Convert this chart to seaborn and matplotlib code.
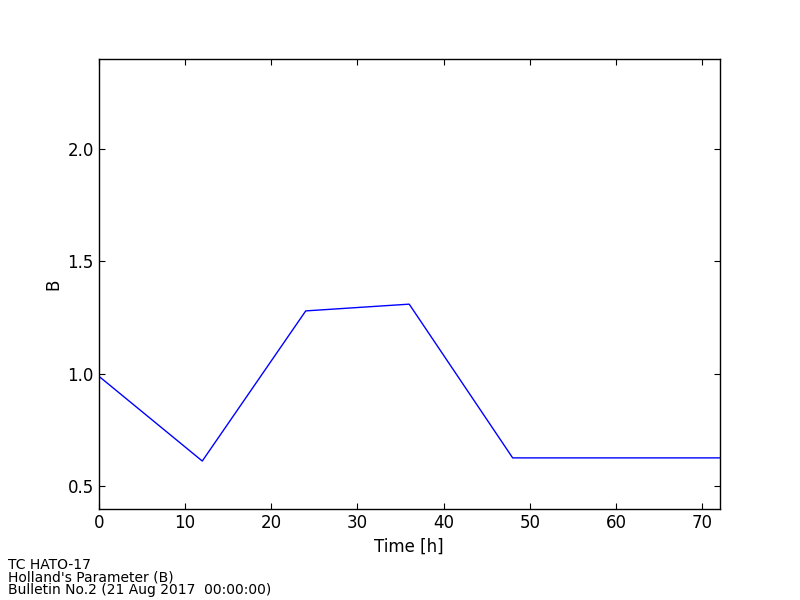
import matplotlib
matplotlib.use("Agg")
import matplotlib.pyplot as plt
import seaborn as sns
import pandas as pd

# Holland's B parameter forecast
hours = [0, 12, 24, 36, 48, 60, 72]
b_values = [0.99, 0.613, 1.28, 1.31, 0.627, 0.627, 0.627]

footer_lines = ["TC HATO-17", "Holland's Parameter (B)", "Bulletin No.2 (21 Aug 2017  00:00:00)"]

sns.set_style("ticks")
plt.rcParams['font.family'] = ['DejaVu Sans']
plt.rcParams['xtick.direction'] = 'in'
plt.rcParams['ytick.direction'] = 'in'
plt.rcParams['text.color'] = 'black'
plt.rcParams['axes.labelcolor'] = 'black'

df = pd.DataFrame({'Time': hours, 'B': b_values})

fig = plt.figure(figsize=(8, 6), dpi=100)
ax = fig.add_axes([0.1235, 0.1517, 0.776, 0.7503])
sns.lineplot(data=df, x='Time', y='B', ax=ax, color='blue', linewidth=1.0)

ax.set_xlim(0, 72)
ax.set_ylim(0.4, 2.4)
ax.set_xticks([0, 10, 20, 30, 40, 50, 60, 70])
ax.set_yticks([0.5, 1.0, 1.5, 2.0])
ax.set_yticklabels(['0.5', '1.0', '1.5', '2.0'])
ax.tick_params(axis='both', which='major', labelsize=12, length=4, width=0.8,
               top=True, right=True, color='black', labelcolor='black')
for spine in ax.spines.values():
    spine.set_color('black')
    spine.set_linewidth(1.0)
    spine.set_visible(True)
ax.set_xlabel('Time [h]', fontsize=12, color='black')
ax.set_ylabel('B', fontsize=12, color='black')

fig.text(0.01, 0.005, "\n".join(footer_lines), fontsize=10, ha='left', va='bottom',
         linespacing=0.85, color='black')

fig.savefig('out.png', dpi=100, facecolor='white')
